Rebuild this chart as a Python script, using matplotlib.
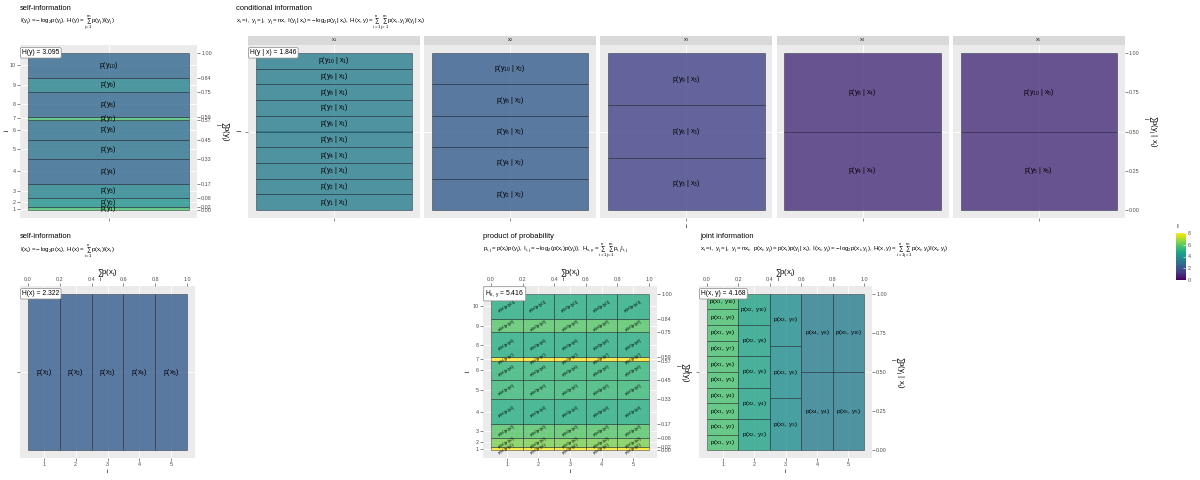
import numpy as np
import matplotlib
matplotlib.use('Agg')
import matplotlib.pyplot as plt
from matplotlib import colors, colorbar

plt.rcParams['font.family'] = ['Liberation Sans', 'DejaVu Sans']
plt.rcParams['mathtext.fontset'] = 'custom'
plt.rcParams['mathtext.rm'] = 'Liberation Sans'
plt.rcParams['mathtext.it'] = 'Liberation Sans'
plt.rcParams['mathtext.default'] = 'regular'

# ---- data ----
x_idx = [1, 2, 3, 4, 5]
p_x = [0.2, 0.2, 0.2, 0.2, 0.2]
y_idx = [1, 2, 3, 4, 5, 6, 7, 8, 9, 10]
p_y = [0.02, 0.06, 0.0867, 0.16, 0.12, 0.1267, 0.02, 0.16, 0.0867, 0.16]

# y_j values reachable from x_i (y = n x) and p(y_j | x_i)
cond_j = {1: [1, 2, 3, 4, 5, 6, 7, 8, 9, 10],
          2: [2, 4, 6, 8, 10],
          3: [3, 6, 9],
          4: [4, 8],
          5: [5, 10]}
cond_p = {1: [0.1, 0.1, 0.1, 0.1, 0.1, 0.1, 0.1, 0.1, 0.1, 0.1],
          2: [0.2, 0.2, 0.2, 0.2, 0.2],
          3: [0.3333, 0.3333, 0.3333],
          4: [0.5, 0.5],
          5: [0.5, 0.5]}

H_y = '3.095'
H_y_x = '1.846'
H_x = '2.322'
H_xy_prod = '5.416'
H_xy = '4.168'

# ---- style ----
W, H = 1200, 480
cmap = plt.get_cmap('viridis')
norm = colors.Normalize(0, 8)
ALPHA = 0.8
BG = '#EBEBEB'
TICK = 3.9
LAB = 4.6
SUMLAB = 5.6
TXT = 5.0

fig = plt.figure(figsize=(12, 4.8), dpi=100)


def px_axes(x0, y0, x1, y1):
    ax = fig.add_axes([x0 / W, 1 - y1 / H, (x1 - x0) / W, (y1 - y0) / H])
    ax.set_facecolor(BG)
    for s in ax.spines.values():
        s.set_visible(False)
    ax.tick_params(length=2, width=0.4, color='#333333', labelsize=TICK,
                   labelcolor='#4D4D4D', pad=1)
    ax.grid(color='white', lw=0.6)
    ax.set_axisbelow(True)
    ax.set_xlim(-0.05, 1.05)
    ax.set_ylim(-0.05, 1.05)
    return ax


def style_sec(sec):
    for s in sec.spines.values():
        s.set_visible(False)
    sec.tick_params(length=2, width=0.4, color='#333333', labelsize=TICK,
                    labelcolor='#4D4D4D', pad=1)


def rect(ax, x, y, w, h, I):
    fc = colors.to_rgba(cmap(norm(I)), ALPHA)
    ax.bar(x, h, width=w, bottom=y, align='edge', color=fc,
           edgecolor=(0.1, 0.1, 0.15, 0.6), linewidth=0.5, zorder=2)


def hlabel(ax, s):
    ax.text(0.012, 1.0, s, transform=ax.get_yaxis_transform(), ha='left',
            va='center', fontsize=4.9, zorder=5,
            bbox=dict(boxstyle='round,pad=0.25,rounding_size=0.2', fc='white',
                      ec='#888888', lw=0.5))


def titles(x, y, title, sub):
    fig.text(x / W, 1 - y / H, title, fontsize=5.4, va='center', ha='left')
    fig.text(x / W, 1 - (y + 14) / H, sub, fontsize=4.4, va='center', ha='left')


def right_title(ax, s, pad):
    sec = ax.secondary_yaxis('right')
    style_sec(sec)
    sec.set_ylabel(s, rotation=-90, fontsize=SUMLAB, labelpad=pad, va='bottom')
    return sec


cum_y = np.cumsum(p_y)
bot_y = cum_y - np.array(p_y)
mid_y = bot_y + np.array(p_y) / 2
cum_x = np.cumsum(p_x)
bot_x = cum_x - np.array(p_x)
mid_x = bot_x + np.array(p_x) / 2
I_y = -np.log2(p_y)
I_x = -np.log2(p_x)

# ---- A: self-information of y ----
titles(20, 9, 'self-information',
       r'$I(y_j) = -\,log_2 p(y_j),\ H(y) = \sum_{j=1}^{m} p(y_j)I(y_j)$')
ax = px_axes(20, 45, 197, 218)
for j in range(len(y_idx)):
    rect(ax, 0, bot_y[j], 1, p_y[j], I_y[j])
    ax.text(0.5, mid_y[j], r'$p(y_{%d})$' % y_idx[j], ha='center', va='center',
            fontsize=TXT, zorder=4)
ax.set_xticks([0.5])
ax.set_xticklabels([''])
ax.set_yticks(mid_y)
ax.set_yticklabels([str(j) for j in y_idx])
ax.set_ylabel('j', fontsize=LAB, labelpad=0.5)
sec = right_title(ax, r'$\sum_j p(y_j)$', 1)
sec.set_yticks(np.r_[0, cum_y])
sec.set_yticklabels(['%.2f' % v for v in np.r_[0, cum_y]])
hlabel(ax, r'H(y) = ' + H_y)

# ---- B: conditional information, faceted by x_i ----
titles(236, 9, 'conditional information',
       r'$x_i = i,\ y_j = j,\ y_j = nx,\ I(y_j\,|\,x_i) = -\,log_2 p(y_j\,|\,x_i),'
       r'\ H(x, y) = \sum_{i=1}^{n}\sum_{j=1}^{m} p(x_i, y_j)I(y_j\,|\,x_i)$')
step = 176.2
for k, xi in enumerate(x_idx):
    x0 = 248 + k * step
    x1 = x0 + 172
    strip = fig.add_axes([x0 / W, 1 - 45 / H, (x1 - x0) / W, 9 / H])
    strip.set_facecolor('#D9D9D9')
    strip.set_xticks([])
    strip.set_yticks([])
    for s in strip.spines.values():
        s.set_visible(False)
    strip.text(0.5, 0.5, r'$x_{%d}$' % xi, ha='center', va='center',
               fontsize=TICK, color='#1A1A1A', transform=strip.transAxes)
    ax = px_axes(x0, 45, x1, 218)
    ps = cond_p[xi]
    b = 0.0
    for jj, p in zip(cond_j[xi], ps):
        rect(ax, 0, b, 1, p, -np.log2(p))
        ax.text(0.5, b + p / 2, r'$p(y_{%d}\ |\ x_{%d})$' % (jj, xi),
                ha='center', va='center', fontsize=TXT, zorder=4)
        b += p
    ax.set_xticks([0.5])
    ax.set_xticklabels([''])
    ax.set_yticks([0.5])
    if k == 0:
        ax.set_yticklabels([''])
        ax.set_ylabel('j', fontsize=LAB, labelpad=1)
        hlabel(ax, r'H(y | x) = ' + H_y_x)
    else:
        ax.tick_params(axis='y', length=0)
        ax.set_yticklabels([])
    if k == 2:
        ax.set_xlabel('i', fontsize=LAB, labelpad=1)
    if k == 4:
        sec = right_title(ax, r'$\sum_j p(y_j\ |\ x_i)$', 1)
        sec.set_yticks([0, 0.25, 0.5, 0.75, 1.0])
        sec.set_yticklabels(['0.00', '0.25', '0.50', '0.75', '1.00'])

# ---- C: self-information of x ----
titles(20, 237, 'self-information',
       r'$I(x_i) = -\,log_2 p(x_i),\ H(x) = \sum_{i=1}^{n} p(x_i)I(x_i)$')
ax = px_axes(20, 286, 195, 458)
for i in range(len(x_idx)):
    rect(ax, bot_x[i], 0, p_x[i], 1, I_x[i])
    ax.text(mid_x[i], 0.5, r'$p(x_{%d})$' % x_idx[i], ha='center', va='center',
            fontsize=TXT, zorder=4)
ax.set_xticks(mid_x)
ax.set_xticklabels([str(i) for i in x_idx])
ax.set_xlabel('i', fontsize=LAB, labelpad=1)
ax.set_yticks([0.5])
ax.set_yticklabels([''])


def top_axis(ax):
    sec = ax.secondary_xaxis('top')
    style_sec(sec)
    sec.set_xticks([0, 0.2, 0.4, 0.6, 0.8, 1.0])
    sec.set_xticklabels(['0.0', '0.2', '0.4', '0.6', '0.8', '1.0'])
    sec.set_xlabel(r'$\sum_i p(x_i)$', fontsize=SUMLAB, labelpad=1)


top_axis(ax)
hlabel(ax, r'H(x) = ' + H_x)

# ---- D: product of probability ----
titles(483, 237, 'product of probability',
       r'$p_{i,j} = p(x_i)p(y_j),\ I_{i,j} = -\,log_2(p(x_i)p(y_j)),'
       r'\ H_{x,y} = \sum_{i=1}^{n}\sum_{j=1}^{m} p_{i,j}I_{i,j}$')
ax = px_axes(483, 286, 657, 458)
for i in range(len(x_idx)):
    for j in range(len(y_idx)):
        pij = p_x[i] * p_y[j]
        rect(ax, bot_x[i], bot_y[j], p_x[i], p_y[j], -np.log2(pij))
        ax.text(mid_x[i], mid_y[j], r'$p(x_{%d})p(y_{%d})$' % (x_idx[i], y_idx[j]),
                ha='center', va='center', fontsize=3.0, rotation=30, zorder=4)
ax.set_xticks(mid_x)
ax.set_xticklabels([str(i) for i in x_idx])
ax.set_xlabel('i', fontsize=LAB, labelpad=1)
ax.set_yticks(mid_y)
ax.set_yticklabels([str(j) for j in y_idx])
ax.set_ylabel('j', fontsize=LAB, labelpad=1.5)
sec = right_title(ax, r'$\sum_j p(y_j)$', 1)
sec.set_yticks(np.r_[0, cum_y])
sec.set_yticklabels(['%.2f' % v for v in np.r_[0, cum_y]])
top_axis(ax)
hlabel(ax, r'$H_{x,\,y}$ = ' + H_xy_prod)

# ---- E: joint information ----
titles(700, 237, 'joint information',
       r'$x_i = i,\ y_j = j,\ y_j = nx_i,\ p(x_i, y_j) = p(x_i)p(y_j\,|\,x_i),'
       r'\ I(x_i, y_j) = -\,log_2 p(x_i, y_j),'
       r'\ H(x, y) = \sum_{i=1}^{n}\sum_{j=1}^{m} p(x_i, y_j)I(x_i, y_j)$')
ax = px_axes(699, 286, 872, 458)
for i, xi in enumerate(x_idx):
    b = 0.0
    for jj, p in zip(cond_j[xi], cond_p[xi]):
        rect(ax, bot_x[i], b, p_x[i], p, -np.log2(p_x[i] * p))
        ax.text(mid_x[i], b + p / 2, r'$p(x_{%d},\,y_{%d})$' % (xi, jj),
                ha='center', va='center', fontsize=4.6, zorder=4)
        b += p
ax.set_xticks(mid_x)
ax.set_xticklabels([str(i) for i in x_idx])
ax.set_xlabel('i', fontsize=LAB, labelpad=1)
ax.set_yticks([0.5])
ax.set_yticklabels([''])
ax.set_ylabel('j', fontsize=LAB, labelpad=1)
sec = right_title(ax, r'$\sum_j p(y_j\ |\ x_i)$', 1)
sec.set_yticks([0, 0.25, 0.5, 0.75, 1.0])
sec.set_yticklabels(['0.00', '0.25', '0.50', '0.75', '1.00'])
top_axis(ax)
hlabel(ax, r'H(x, y) = ' + H_xy)

# ---- colour bar ----
cax = fig.add_axes([1176 / W, 1 - 280 / H, 10 / W, 47 / H])
cb = colorbar.ColorbarBase(cax, cmap=cmap, norm=norm, ticks=[0, 2, 4, 6, 8])
cb.outline.set_visible(False)
cax.tick_params(length=2, width=0.4, color='white', labelsize=TICK,
                labelcolor='#4D4D4D', pad=1.5, direction='in')
fig.text(1176 / W, 1 - 226 / H, 'I', fontsize=LAB, ha='left', va='center')

fig.savefig('out.png', dpi=100)
